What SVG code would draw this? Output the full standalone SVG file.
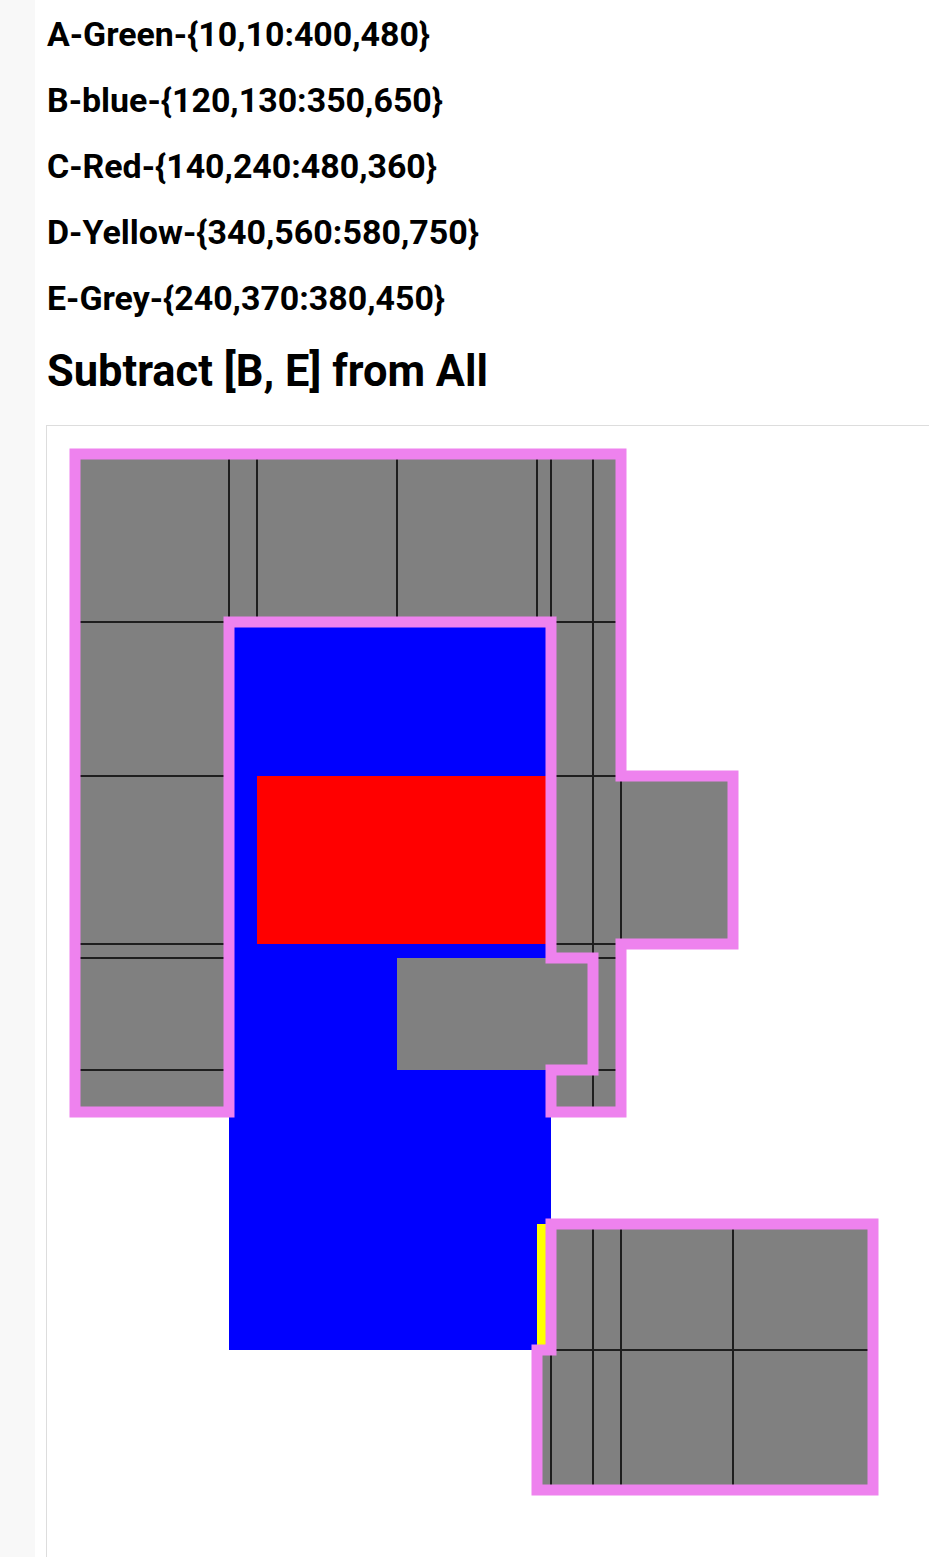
<svg xmlns="http://www.w3.org/2000/svg" width="929" height="1557" viewBox="0 0 929 1557">
<style>
.lbl{font-family:Roboto,"Liberation Sans",sans-serif;font-weight:700;font-size:34px;fill:#000}
.ttl{font-family:Roboto,"Liberation Sans",sans-serif;font-weight:700;font-size:44px;fill:#000}
.cell{fill:#808080;stroke:#1e1e1e;stroke-width:2}
.outline{fill:none;stroke:#EE82EE;stroke-width:11;stroke-linejoin:miter}
</style>
<rect x="0" y="0" width="929" height="1557" fill="#ffffff"/>
<rect x="0" y="0" width="35" height="1557" fill="#f8f8f8"/>
<g id="labels">
<text class="lbl" x="47" y="46" textLength="383" lengthAdjust="spacingAndGlyphs">A-Green-{10,10:400,480}</text>
<text class="lbl" x="47" y="112" textLength="396" lengthAdjust="spacingAndGlyphs">B-blue-{120,130:350,650}</text>
<text class="lbl" x="47" y="178" textLength="390" lengthAdjust="spacingAndGlyphs">C-Red-{140,240:480,360}</text>
<text class="lbl" x="47" y="244" textLength="432" lengthAdjust="spacingAndGlyphs">D-Yellow-{340,560:580,750}</text>
<text class="lbl" x="47" y="310" textLength="398" lengthAdjust="spacingAndGlyphs">E-Grey-{240,370:380,450}</text>
<text class="ttl" x="47" y="386" textLength="441" lengthAdjust="spacingAndGlyphs">Subtract [B, E] from All</text>
</g>
<rect id="canvas" x="46.5" y="425.5" width="900" height="1200" fill="#ffffff" stroke="#dddddd" stroke-width="1"/>
<g id="shapes">
<rect id="B" x="229" y="622" width="322" height="728" fill="#0000FF"/>
<rect id="C" x="257" y="776" width="476" height="168" fill="#FF0000"/>
<rect id="D" x="537" y="1224" width="336" height="266" fill="#FFFF00"/>
<rect id="E" x="397" y="958" width="196" height="112" fill="#808080"/>
</g>
<g id="result-cells">
<rect class="cell" x="75" y="454" width="154" height="168"/>
<rect class="cell" x="229" y="454" width="28" height="168"/>
<rect class="cell" x="257" y="454" width="140" height="168"/>
<rect class="cell" x="397" y="454" width="140" height="168"/>
<rect class="cell" x="537" y="454" width="14" height="168"/>
<rect class="cell" x="551" y="454" width="42" height="168"/>
<rect class="cell" x="593" y="454" width="28" height="168"/>
<rect class="cell" x="75" y="622" width="154" height="154"/>
<rect class="cell" x="551" y="622" width="42" height="154"/>
<rect class="cell" x="593" y="622" width="28" height="154"/>
<rect class="cell" x="75" y="776" width="154" height="168"/>
<rect class="cell" x="551" y="776" width="42" height="168"/>
<rect class="cell" x="593" y="776" width="28" height="168"/>
<rect class="cell" x="621" y="776" width="112" height="168"/>
<rect class="cell" x="75" y="944" width="154" height="14"/>
<rect class="cell" x="551" y="944" width="42" height="14"/>
<rect class="cell" x="593" y="944" width="28" height="14"/>
<rect class="cell" x="75" y="958" width="154" height="112"/>
<rect class="cell" x="593" y="958" width="28" height="112"/>
<rect class="cell" x="75" y="1070" width="154" height="42"/>
<rect class="cell" x="551" y="1070" width="42" height="42"/>
<rect class="cell" x="593" y="1070" width="28" height="42"/>
<rect class="cell" x="551" y="1224" width="42" height="126"/>
<rect class="cell" x="593" y="1224" width="28" height="126"/>
<rect class="cell" x="621" y="1224" width="112" height="126"/>
<rect class="cell" x="733" y="1224" width="140" height="126"/>
<rect class="cell" x="537" y="1350" width="14" height="140"/>
<rect class="cell" x="551" y="1350" width="42" height="140"/>
<rect class="cell" x="593" y="1350" width="28" height="140"/>
<rect class="cell" x="621" y="1350" width="112" height="140"/>
<rect class="cell" x="733" y="1350" width="140" height="140"/>
</g>
<g id="result-outlines">
<path class="outline" d="M75,454 H621 V776 H733 V944 H621 V1112 H551 V1070 H593 V958 H551 V622 H229 V1112 H75 Z"/>
<path class="outline" d="M551,1224 H873 V1490 H537 V1350 H551 Z"/>
</g>
</svg>
